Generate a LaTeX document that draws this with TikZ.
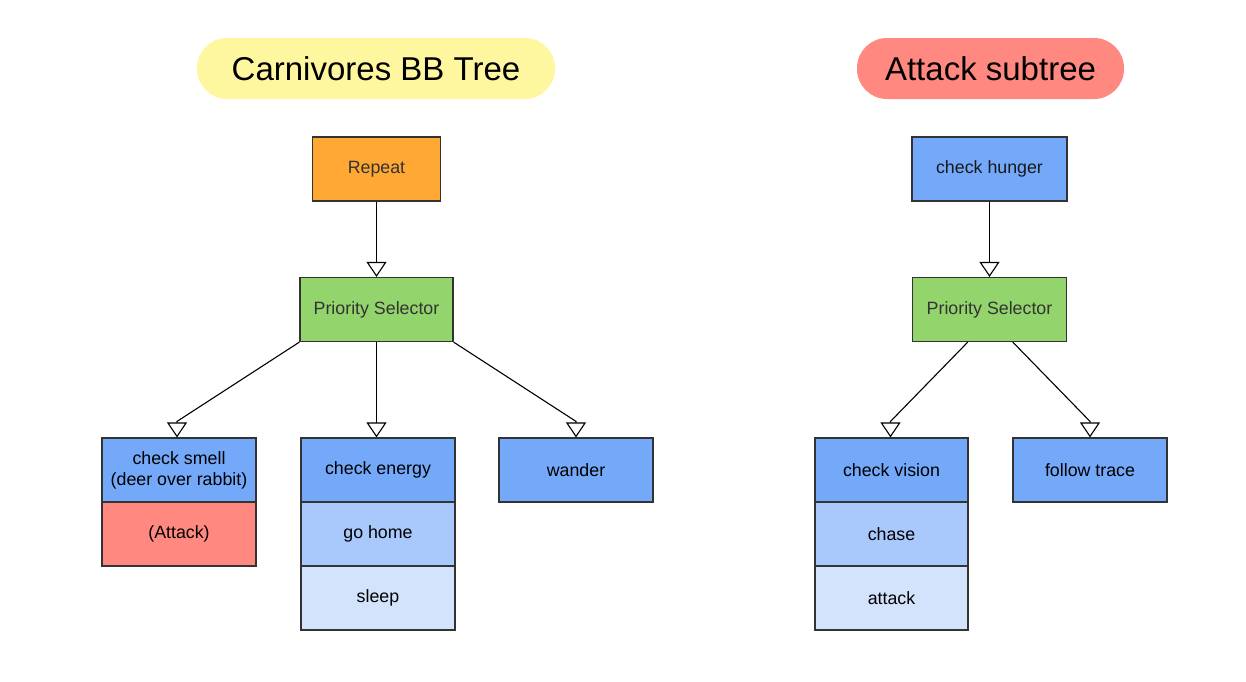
\documentclass[tikz,border=0pt]{standalone}
\usepackage{fontspec}
\setmainfont{Liberation Sans}
\usepackage{tikz}
\usetikzlibrary{arrows.meta,positioning,calc}
\definecolor{bbyellow}{HTML}{FFF7A0}
\definecolor{bbsalmon}{HTML}{FF8880}
\definecolor{bborange}{HTML}{FFA833}
\definecolor{bbgreen}{HTML}{93D46C}
\definecolor{bbblue}{HTML}{74A9FA}
\definecolor{bbmid}{HTML}{A9C8FB}
\definecolor{bbpale}{HTML}{D4E3FC}
\definecolor{bbtext}{HTML}{333333}

\begin{document}
\begin{tikzpicture}[x=1pt,y=-1pt,font=\fontsize{17.8}{21}\selectfont,
  bt/.style={draw=black!80,line width=1.2pt,minimum width=154pt,minimum height=64pt,inner sep=2pt,align=center},
  ttl/.style={rounded corners=30pt,minimum height=61pt,inner sep=0pt,font=\fontsize{33}{40}\selectfont},
  ar/.style={-{Triangle[open,length=15pt,width=20pt]},line width=1.1pt}]
\useasboundingbox (0,0) rectangle (1246,681);
% titles
\node[ttl,fill=bbyellow,minimum width=358pt] (t1) at (376,68.5) {Carnivores BB Tree};
\node[ttl,fill=bbsalmon,minimum width=267pt] (t2) at (990.5,68.5) {Attack subtree};
% carnivores tree
\node[bt,fill=bborange,text=bbtext,minimum width=128pt] (rep) at (376.5,169) {Repeat};
\node[bt,fill=bbgreen,text=bbtext,minimum width=153pt] (ps1) at (376.5,309.5) {Priority Selector};
\node[bt,fill=bbblue] (cs) at (179,470) {check smell\\(deer over rabbit)};
\node[bt,fill=bbsalmon,below=-1.2pt of cs] (att) {(Attack)};
\node[bt,fill=bbblue] (ce) at (378,470) {check energy};
\node[bt,fill=bbmid,below=-1.2pt of ce] (gh) {go home};
\node[bt,fill=bbpale,below=-1.2pt of gh] (sl) {sleep};
\node[bt,fill=bbblue] (wa) at (576,470) {wander};
% attack subtree
\node[bt,fill=bbblue,text=black!90,minimum width=155pt] (hu) at (989.5,169) {check hunger};
\node[bt,fill=bbgreen,text=bbtext] (ps2) at (989.5,309.5) {Priority Selector};
\node[bt,fill=bbblue,minimum width=153pt] (cv) at (891.5,470) {check vision};
\node[bt,fill=bbmid,minimum width=153pt,below=-1.2pt of cv] (ch) {chase};
\node[bt,fill=bbpale,minimum width=153pt,below=-1.2pt of ch] (atk) {attack};
\node[bt,fill=bbblue] (ft) at (1090,470) {follow trace};
% edges
\draw[ar] (rep) -- (ps1);
\draw[ar] (ps1.south west) -- ($(cs.north)+(-2,-16)$) -- ($(cs.north)+(-2,0)$);
\draw[ar] (ps1.south) -- (ps1.south |- ce.north);
\draw[ar] (ps1.south east) -- ($(wa.north)+(0,-16)$) -- (wa.north);
\draw[ar] (hu) -- (ps2);
\draw[ar] ($(ps2.south west)!0.36!(ps2.south east)$) -- ($(cv.north)+(-1,-16)$) -- ($(cv.north)+(-1,0)$);
\draw[ar] ($(ps2.south west)!0.65!(ps2.south east)$) -- ($(ft.north)+(0,-16)$) -- (ft.north);
\end{tikzpicture}
\end{document}
